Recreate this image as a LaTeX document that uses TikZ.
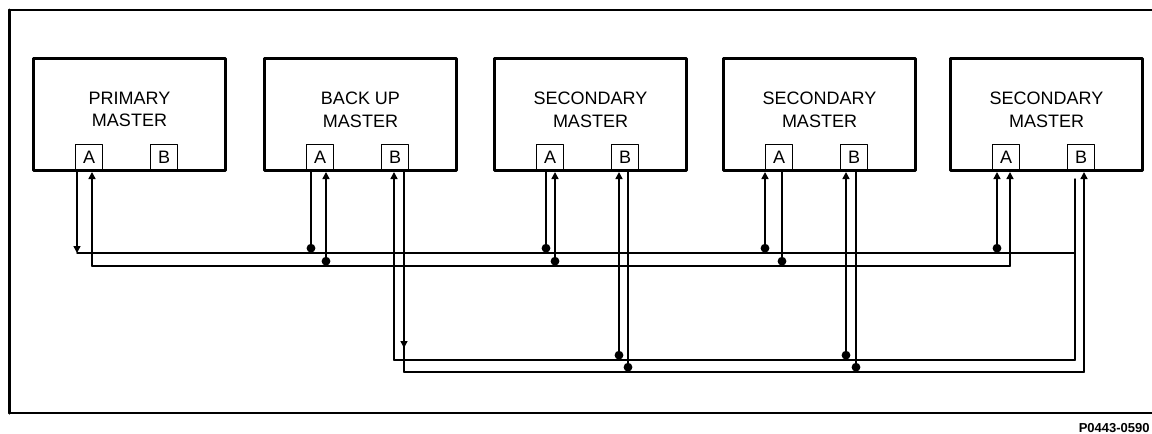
\documentclass[tikz,border=0pt]{standalone}
\usepackage{fontspec}
\setmainfont{Liberation Sans}
\usetikzlibrary{arrows.meta,positioning,calc}

\begin{document}
\begin{tikzpicture}[x=0.5pt, y=-0.5pt, line cap=round, line join=round,
    master/.style={draw, line width=1.5pt, minimum width=96pt, minimum height=56pt, inner sep=0pt,
      anchor=north west, align=center, font=\fontsize{9}{11.25}\selectfont, text depth=5pt},
    port/.style={draw, line width=0.7pt, minimum size=13.5pt, inner sep=0pt, anchor=south west,
      font=\fontsize{9}{9}\selectfont},
    wire/.style={line width=0.75pt},
    tip/.style={wire, -{Triangle[width=3.5pt,length=3.5pt]}},
    jdot/.style={circle, fill, inner sep=0pt, minimum size=4.4pt, anchor=south}]
        \useasboundingbox (0,0) rectangle (1152,434);
        % frame
        \draw[line width=1pt] (1152,10) -- (9,10) -- (9,413) -- (1152,413);
        \draw[line width=1.5pt] (9,10) -- (9,413);
        % masters
        \node[master] (m1) at (32,57) {PRIMARY\\MASTER};
        \node[master] (m2) at (263,57) {BACK UP\\MASTER};
        \node[master] (m3) at (493,57) {SECONDARY\\MASTER};
        \node[master] (m4) at (722,57) {SECONDARY\\MASTER};
        \node[master] (m5) at (949,57) {SECONDARY\\MASTER};
        % ports
        \node[port] (p1a) at ([xshift=21.5pt]m1.south west) {A};
        \node[port] (p1b) at ([xshift=59pt]m1.south west) {B};
        \node[port] (p2a) at ([xshift=21.5pt]m2.south west) {A};
        \node[port] (p2b) at ([xshift=59pt]m2.south west) {B};
        \node[port] (p3a) at ([xshift=21.5pt]m3.south west) {A};
        \node[port] (p3b) at ([xshift=59pt]m3.south west) {B};
        \node[port] (p4a) at ([xshift=21.5pt]m4.south west) {A};
        \node[port] (p4b) at ([xshift=59pt]m4.south west) {B};
        \node[port] (p5a) at ([xshift=21.5pt]m5.south west) {A};
        \node[port] (p5b) at ([xshift=59pt]m5.south west) {B};
        % wire ends under the ports
        \coordinate (a1l) at ([xshift=1pt]p1a.south west);
        \coordinate (a1r) at ([xshift=8.5pt]p1a.south west);
        \coordinate (a2l) at ([xshift=2.5pt]p2a.south west);
        \coordinate (a2r) at ([xshift=10pt]p2a.south west);
        \coordinate (b2l) at ([xshift=6.5pt]p2b.south west);
        \coordinate (b2r) at ([xshift=11.5pt]p2b.south west);
        \coordinate (a3l) at ([xshift=5pt]p3a.south west);
        \coordinate (a3r) at ([xshift=9.5pt]p3a.south west);
        \coordinate (b3l) at ([xshift=4pt]p3b.south west);
        \coordinate (b3r) at ([xshift=8.5pt]p3b.south west);
        \coordinate (a4l) at ([xshift=0pt]p4a.south west);
        \coordinate (a4r) at ([xshift=8.5pt]p4a.south west);
        \coordinate (b4l) at ([xshift=3pt]p4b.south west);
        \coordinate (b4r) at ([xshift=8pt]p4b.south west);
        \coordinate (a5l) at ([xshift=2.5pt]p5a.south west);
        \coordinate (a5r) at ([xshift=9pt]p5a.south west);
        \coordinate (b5l) at ([xshift=4pt]p5b.south west);
        \coordinate (b5r) at ([xshift=8.5pt]p5b.south west);
        % bus levels
        \coordinate (bus1u) at (0,253);
        \coordinate (bus1l) at (0,266);
        \coordinate (bus2u) at (0,360);
        \coordinate (bus2l) at (0,372);
        % buses
        \draw[wire] (a1l |- bus1u) -- (b5l |- bus1u);
        \draw[wire] (a1r |- bus1l) -- (a5r |- bus1l);
        \draw[wire] (b2l |- bus2u) -- (b5l |- bus2u);
        \draw[wire] (b2r |- bus2l) -- (b5r |- bus2l);
        % primary master
        \draw[tip] (a1l) -- (a1l |- bus1u);
        \draw[tip] (a1r |- bus1l) -- (a1r);
        % back up master
        \draw[wire] (a2l) -- (a2l |- bus1u);
        \draw[tip] (a2r |- bus1l) -- (a2r);
        \draw[tip] (b2l |- bus2u) -- (b2l);
        \draw[wire] (b2r) -- (b2r |- bus2l);
        \draw[tip] (b2r) -- ($(b2r |- bus2l)+(0,-24)$);
        % secondary masters
        \draw[wire] (a3l) -- (a3l |- bus1u);
        \draw[tip] (a3r |- bus1l) -- (a3r);
        \draw[tip] (b3l |- bus2u) -- (b3l);
        \draw[wire] (b3r) -- (b3r |- bus2l);
        \draw[tip] (a4l |- bus1u) -- (a4l);
        \draw[wire] (a4r) -- (a4r |- bus1l);
        \draw[tip] (b4l |- bus2u) -- (b4l);
        \draw[wire] (b4r) -- (b4r |- bus2l);
        \draw[tip] (a5l |- bus1u) -- (a5l);
        \draw[tip] (a5r |- bus1l) -- (a5r);
        \draw[wire] ($(b5l)+(0,7)$) -- (b5l |- bus2u);
        \draw[tip] (b5r |- bus2l) -- (b5r);
        % junction dots
        \node[jdot] (j1) at (a2l |- bus1u) {};
        \node[jdot] (j2) at (a2r |- bus1l) {};
        \node[jdot] (j3) at (a3l |- bus1u) {};
        \node[jdot] (j4) at (a3r |- bus1l) {};
        \node[jdot] (j5) at (a4l |- bus1u) {};
        \node[jdot] (j6) at (a4r |- bus1l) {};
        \node[jdot] (j7) at (a5l |- bus1u) {};
        \node[jdot] (j8) at (b3l |- bus2u) {};
        \node[jdot] (j9) at (b3r |- bus2l) {};
        \node[jdot] (j10) at (b4l |- bus2u) {};
        \node[jdot] (j11) at (b4r |- bus2l) {};
        % drawing number
        \node[anchor=east, inner sep=0pt, font=\fontsize{6.5}{7}\selectfont\bfseries] (dwg) at (1150,428) {P0443-0590};
    \end{tikzpicture}
\end{document}
